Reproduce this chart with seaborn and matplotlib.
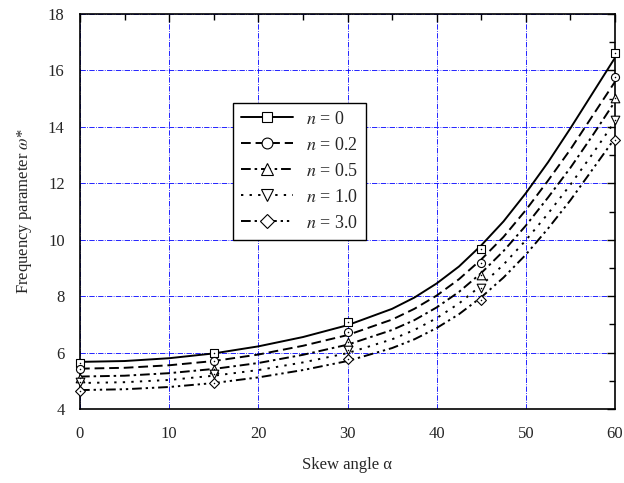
import matplotlib
matplotlib.use("Agg")
import matplotlib.pyplot as plt
from matplotlib.lines import Line2D
from matplotlib.ticker import MultipleLocator
import seaborn as sns
import pandas as pd

# ---- data ----
alpha_pts = [0, 15, 30, 45, 60]
w_n00 = [5.64, 6.00, 7.07, 9.67, 16.61]
w_n02 = [5.42, 5.70, 6.72, 9.16, 15.78]
w_n05 = [5.11, 5.42, 6.39, 8.75, 15.01]
w_n10 = [4.95, 5.23, 6.09, 8.28, 14.24]
w_n30 = [4.64, 4.91, 5.76, 7.86, 13.54]

alpha_curve = [0, 5, 10, 15, 20, 25, 30, 35, 37.5, 40, 42.5, 45, 47.5, 50, 52.5, 55, 57.5, 60]
c_n00 = [5.67, 5.70, 5.80, 5.97, 6.22, 6.55, 6.97, 7.55, 7.95, 8.45, 9.05, 9.80, 10.65, 11.65, 12.75, 13.95, 15.20, 16.45]
c_n02 = [5.43, 5.46, 5.55, 5.70, 5.93, 6.24, 6.62, 7.17, 7.55, 8.02, 8.60, 9.30, 10.10, 11.05, 12.10, 13.20, 14.40, 15.60]
c_n05 = [5.15, 5.18, 5.27, 5.42, 5.63, 5.92, 6.28, 6.80, 7.15, 7.60, 8.15, 8.82, 9.60, 10.50, 11.50, 12.55, 13.70, 14.90]
c_n10 = [4.92, 4.95, 5.03, 5.18, 5.38, 5.65, 5.98, 6.47, 6.80, 7.22, 7.74, 8.38, 9.12, 9.98, 10.93, 11.95, 13.05, 14.20]
c_n30 = [4.67, 4.70, 4.78, 4.92, 5.12, 5.38, 5.70, 6.16, 6.47, 6.87, 7.36, 7.96, 8.66, 9.47, 10.40, 11.40, 12.50, 13.60]

labels = ["$n$ = 0", "$n$ = 0.2", "$n$ = 0.5", "$n$ = 1.0", "$n$ = 3.0"]
x_ticks = [0, 10, 20, 30, 40, 50, 60]
y_ticks = [4, 6, 8, 10, 12, 14, 16, 18]

# ---- styles ----
sns.set_style("white")
plt.rcParams["font.family"] = ["Liberation Serif", "DejaVu Serif"]
plt.rcParams["mathtext.fontset"] = "stix"

linestyles = ["-", (0, (5, 2.5)), (0, (5, 2, 1.3, 2)), (0, (1.2, 3.2)), (0, (5, 2, 1.2, 2, 1.2, 2))]
markers = ["s", "o", "^", "v", "D"]
msizes = [5.2, 5.8, 6.2, 6.2, 5.0]
leg_msizes = [7.0, 7.8, 8.5, 8.5, 6.8]

pts = [w_n00, w_n02, w_n05, w_n10, w_n30]
curves = [c_n00, c_n02, c_n05, c_n10, c_n30]

fig = plt.figure(figsize=(6.24, 4.83), dpi=100)
ax = fig.add_axes([80 / 624, 1 - 409 / 483, 535 / 624, 395 / 483])

for lab, cy, ls in zip(labels, curves, linestyles):
    df = pd.DataFrame({"alpha": alpha_curve, "w": cy})
    sns.lineplot(data=df, x="alpha", y="w", ax=ax, color="black", linewidth=1.4,
                 linestyle=ls, legend=False, zorder=3)

for lab, py, mk, ms in zip(labels, pts, markers, msizes):
    df = pd.DataFrame({"alpha": alpha_pts, "w": py})
    sns.scatterplot(data=df, x="alpha", y="w", ax=ax, marker=mk, s=ms ** 2,
                    facecolor="white", edgecolor="black", linewidth=0.8,
                    legend=False, zorder=4, clip_on=False)
    sns.scatterplot(data=df, x="alpha", y="w", ax=ax, marker="o", s=1.2,
                    color="black", linewidth=0, legend=False, zorder=5, clip_on=False)

ax.set_xlim(0, 60)
ax.set_ylim(4, 18)
ax.set_xticks(x_ticks)
ax.set_yticks(y_ticks)
ax.xaxis.set_minor_locator(MultipleLocator(5))
ax.yaxis.set_minor_locator(MultipleLocator(1))
ax.tick_params(which="both", direction="in", top=True, right=True, labelsize=12,
               color="black", width=1.0)
ax.tick_params(which="major", length=6)
ax.tick_params(which="minor", length=4)
ax.tick_params(axis="x", which="major", pad=12)
ax.tick_params(axis="y", which="major", pad=11)
ax.grid(True, which="major", color="#0000ff", linestyle="-.", linewidth=0.6)
ax.set_axisbelow(True)
for sp in ax.spines.values():
    sp.set_color("black")
    sp.set_linewidth(1.2)

ax.set_xlabel("Skew angle α", fontsize=12, labelpad=11)
ax.set_ylabel("Frequency parameter $\\omega$*", fontsize=12, labelpad=10)

handles = [Line2D([], [], color="black", linewidth=1.4, linestyle=ls, marker=mk,
                  markersize=ms, markerfacecolor="white", markeredgecolor="black",
                  markeredgewidth=0.8)
           for ls, mk, ms in zip(linestyles, markers, leg_msizes)]
leg = ax.legend(handles, labels, loc="lower left", bbox_to_anchor=(0.286, 0.428),
                borderaxespad=0, frameon=True, fancybox=False, framealpha=1,
                edgecolor="black", fontsize=13, handlelength=2.9,
                labelspacing=0.5, borderpad=0.45, handletextpad=0.7)
leg.get_frame().set_linewidth(1.0)
leg.set_zorder(10)

fig.savefig("out.png", dpi=100)
